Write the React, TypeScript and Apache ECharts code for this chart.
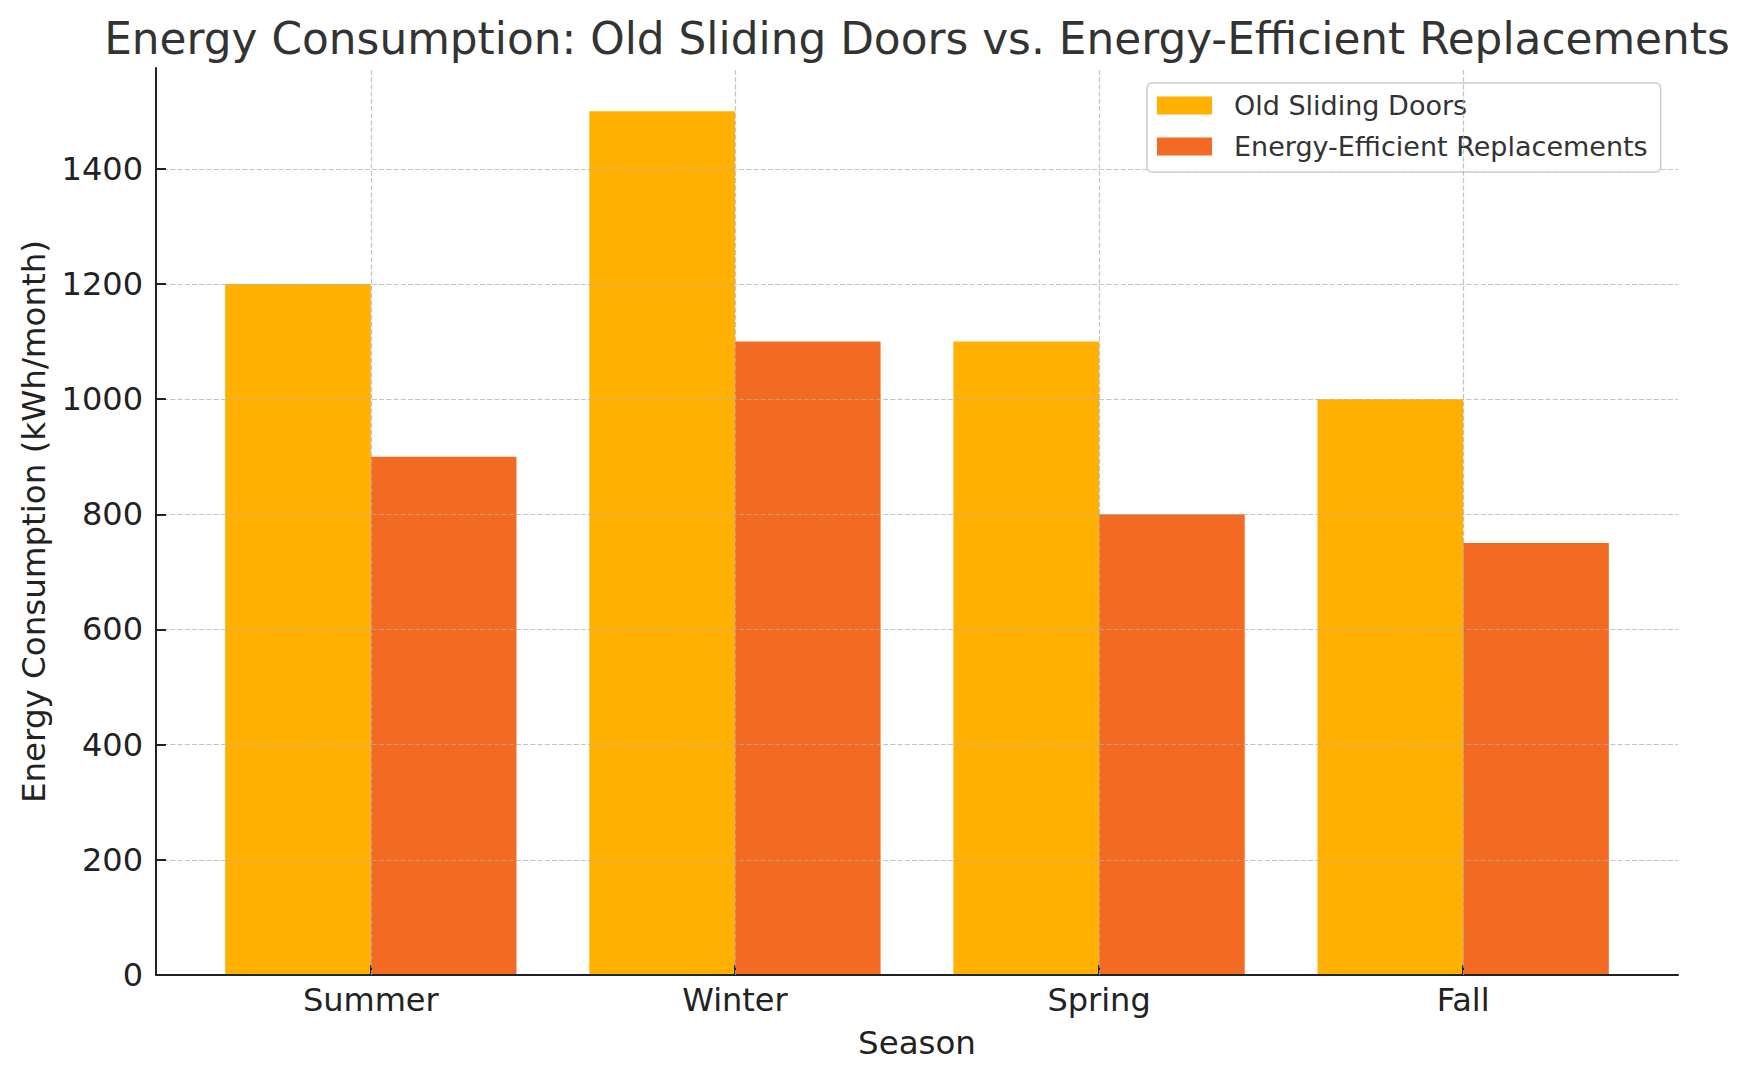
import React, { useEffect, useRef } from "react";
import * as echarts from "echarts";

const seasons = ["Summer", "Winter", "Spring", "Fall"];
const oldDoors = [1200, 1500, 1100, 1000];
const efficient = [900, 1100, 800, 750];
const seriesNames = ["Old Sliding Doors", "Energy-Efficient Replacements"];
const yTicks = [0, 200, 400, 600, 800, 1000, 1200, 1400];
const titleText = "Energy Consumption: Old Sliding Doors vs. Energy-Efficient Replacements";
const yName = "Energy Consumption (kWh/month)";
const xName = "Season";

const FONT = "DejaVu Sans";
const GRID_COLOR = "rgba(176,176,176,0.75)";
const AXIS_COLOR = "#222222";
const TICK_FS = 32;
const LABEL_FS = 32.5;

export default function App() {
  const ref = useRef<HTMLDivElement>(null);
  useEffect(() => {
    document.body.style.margin = "0";
    if (!ref.current) return;
    const chart = echarts.init(ref.current, undefined, { renderer: "svg" });
    const plotLeft = 156;
    const plotRight = 1678;
    const plotW = plotRight - plotLeft;
    const span = 4.18;
    const barLeft = plotLeft + (0.09 / span) * plotW;
    const barW = (4 / span) * plotW;
    const dash = { color: GRID_COLOR, width: 1.2, type: [5, 2.2] };
    chart.setOption({
      animation: false,
      backgroundColor: "#ffffff",
      textStyle: { fontFamily: FONT },
      title: {
        text: titleText,
        left: 917,
        top: 16,
        padding: 0,
        textAlign: "center",
        textStyle: { fontFamily: FONT, fontSize: 43.8, fontWeight: "normal", color: "#333333" },
      },
      legend: {
        orient: "vertical",
        left: 1147,
        top: 83,
        padding: [9, 13, 12, 10],
        itemWidth: 55,
        itemHeight: 18,
        itemGap: 14,
        icon: "rect",
        backgroundColor: "rgba(255,255,255,0.8)",
        borderColor: "#cccccc",
        borderWidth: 1.5,
        borderRadius: 5,
        textStyle: { fontFamily: FONT, fontSize: 27, lineHeight: 27, color: "#333333", padding: [0, 0, 0, 17] },
        data: seriesNames,
      },
      grid: [
        { left: plotLeft, top: 68, width: plotW, bottom: 105 },
        { left: barLeft, top: 68, width: barW, bottom: 105 },
      ],
      xAxis: [
        {
          type: "value",
          gridIndex: 0,
          min: -0.59,
          max: 3.59,
          axisLine: { show: true, onZero: false, lineStyle: { color: AXIS_COLOR, width: 2 } },
          axisTick: { show: false },
          axisLabel: { show: false },
          splitLine: { show: false },
          z: 3,
        },
        {
          type: "category",
          gridIndex: 1,
          data: seasons,
          axisLine: { show: false, onZero: false },
          axisTick: { show: true, alignWithLabel: true, inside: true, length: 10, lineStyle: { color: AXIS_COLOR, width: 2 } },
          axisLabel: { fontFamily: FONT, fontSize: TICK_FS, color: "#222222", margin: 9 },
          splitLine: { show: false },
          name: xName,
          nameLocation: "middle",
          nameGap: 51,
          nameTextStyle: { fontFamily: FONT, fontSize: LABEL_FS, color: "#222222" },
          z: 3,
        },
      ],
      yAxis: [
        {
          type: "value",
          gridIndex: 0,
          min: 0,
          max: 1575,
          interval: 200,
          axisLine: { show: true, onZero: false, lineStyle: { color: AXIS_COLOR, width: 2 } },
          axisTick: {
            show: true,
            inside: true,
            length: 10,
            customValues: yTicks,
            lineStyle: { color: AXIS_COLOR, width: 2 },
          },
          axisLabel: {
            fontFamily: FONT,
            fontSize: TICK_FS,
            color: "#222222",
            margin: 13,
            customValues: yTicks,
            formatter: (v: number) => String(v),
          },
          splitLine: { show: true, showMinLine: false, lineStyle: dash },
          name: yName,
          nameLocation: "middle",
          nameRotate: 90,
          nameGap: 104,
          nameTextStyle: { fontFamily: FONT, fontSize: LABEL_FS, color: "#222222" },
          z: 3,
        },
        {
          type: "value",
          gridIndex: 1,
          min: 0,
          max: 1575,
          show: false,
        },
      ],
      series: [
        {
          name: seriesNames[0],
          type: "bar",
          xAxisIndex: 1,
          yAxisIndex: 1,
          data: oldDoors,
          barWidth: "40%",
          barGap: "0%",
          itemStyle: { color: "#FFB000" },
        },
        {
          name: seriesNames[1],
          type: "bar",
          xAxisIndex: 1,
          yAxisIndex: 1,
          data: efficient,
          barWidth: "40%",
          barGap: "0%",
          itemStyle: { color: "#F36A22" },
        },
        {
          name: "gridlines",
          type: "line",
          xAxisIndex: 1,
          yAxisIndex: 1,
          data: seasons.map(() => null),
          showSymbol: false,
          silent: true,
          markLine: {
            silent: true,
            symbol: ["none", "none"],
            label: { show: false },
            lineStyle: dash,
            data: seasons.map((s) => ({ xAxis: s })),
            z: 5,
          },
        },
      ],
    });
    return () => chart.dispose();
  }, []);
  return <div ref={ref} style={{ width: 1746, height: 1080 }} />;
}
